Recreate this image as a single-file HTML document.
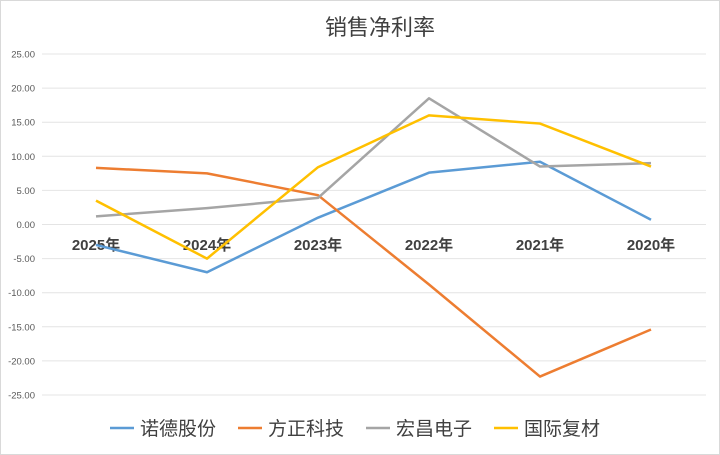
<!DOCTYPE html>
<html><head><meta charset="utf-8"><style>
body{margin:0;background:#fff;}
svg{display:block;font-family:"Liberation Sans","Noto Sans CJK SC",sans-serif;}
</style></head><body>
<svg id="c" width="720" height="455">
<rect x="0.5" y="0.5" width="719" height="454" fill="#fff" stroke="#d9d9d9"/>
<text x="380" y="35" text-anchor="middle" font-size="22" fill="#404040">销售净利率</text>
<g id="grid"></g><g id="series"></g><g id="legend"></g>
</svg>
<script>
const categories=["2025年","2024年","2023年","2022年","2021年","2020年"];
const seriesNames=["诺德股份","方正科技","宏昌电子","国际复材"];
const seriesColors=["#5b9bd5","#ed7d31","#a5a5a5","#ffc000"];
const nuode=[-3.0,-7.0,1.0,7.6,9.2,0.7];
const fangzheng=[8.3,7.5,4.3,-8.8,-22.3,-15.4];
const hongchang=[1.2,2.4,3.9,18.5,8.5,9.0];
const guoji=[3.5,-5.0,8.4,16.0,14.8,8.5];
const ticks=[25,20,15,10,5,0,-5,-10,-15,-20,-25];
const allSeries=[nuode,fangzheng,hongchang,guoji];
const NS="http://www.w3.org/2000/svg";
const y=v=>224.5-v*6.82;
const x=i=>96+i*111;
function mk(t,a,p){const e=document.createElementNS(NS,t);for(const k in a)e.setAttribute(k,a[k]);p.appendChild(e);return e;}
const g=document.getElementById('grid');
ticks.forEach(t=>{
 const l=mk('line',{x1:42,x2:706,y1:y(t),y2:y(t),stroke:'#e4e4e4','stroke-width':1},g);
 
 
 const tx=mk('text',{x:35,y:y(t)+3.5,'text-anchor':'end','font-size':9.5,fill:'#595959'},g);
 tx.textContent=t.toFixed(2);
 
 
});
categories.forEach((c,i)=>{
 const tx=mk('text',{x:x(i),y:250,'text-anchor':'middle','font-size':15,'font-weight':'bold',fill:'#404040'},g);
 tx.textContent=c;
 
 
});
const s=document.getElementById('series');
allSeries.forEach((d,k)=>{
 const p=mk('polyline',{points:d.map((v,i)=>x(i)+','+y(v)).join(' '),fill:'none',stroke:seriesColors[k],'stroke-width':2.5,'stroke-linejoin':'round'},s);
 
 
});
const lg=document.getElementById('legend');
const lx=[110,238,366,494];
seriesNames.forEach((n,k)=>{
 const gg=mk('g',{},lg);
 
 
 mk('line',{x1:lx[k],x2:lx[k]+24,y1:428,y2:428,stroke:seriesColors[k],'stroke-width':2.5},gg);
 const t=mk('text',{x:lx[k]+30,y:435,'font-size':19,fill:'#404040'},gg);
 t.textContent=n;
});
</script>
</body></html>
